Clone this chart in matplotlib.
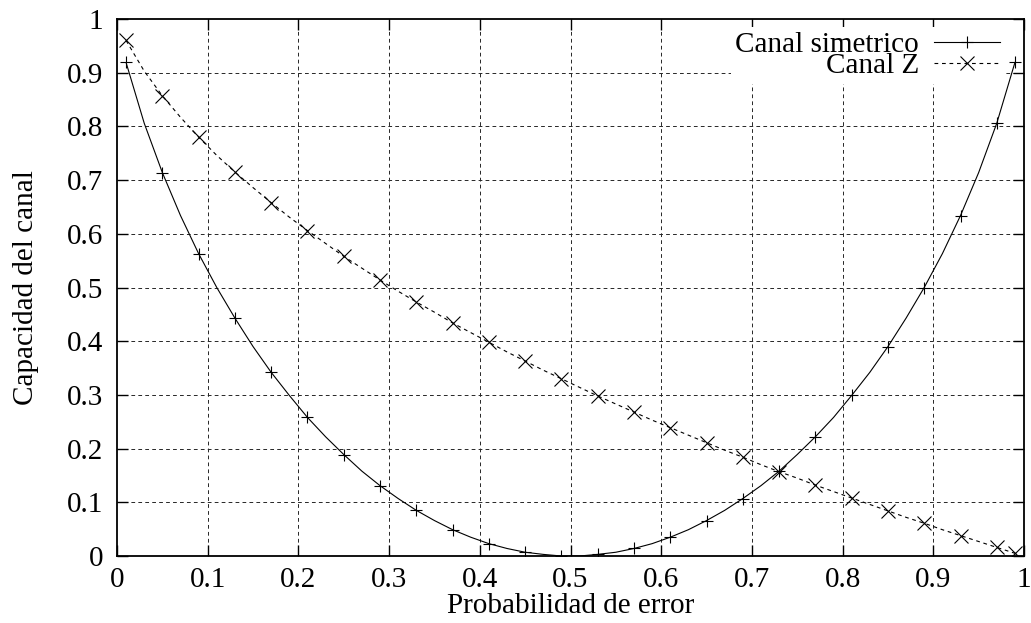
import numpy as np
import matplotlib
matplotlib.use("Agg")
import matplotlib.pyplot as plt

plt.rcParams['font.family'] = ['Liberation Serif', 'DejaVu Serif']
plt.rcParams['font.size'] = 21
plt.rcParams['lines.scale_dashes'] = False

# error probability grid (step 0.02), markers every 0.04
p = np.round(np.linspace(0.01, 0.99, 50), 2)

cap_sym = [0.919, 0.806, 0.714, 0.634, 0.563, 0.500, 0.443, 0.390, 0.342, 0.299,
           0.258, 0.222, 0.189, 0.158, 0.131, 0.107, 0.085, 0.066, 0.049, 0.035,
           0.023, 0.014, 0.007, 0.003, 0.000, 0.000, 0.003, 0.007, 0.014, 0.023,
           0.035, 0.049, 0.066, 0.085, 0.107, 0.131, 0.158, 0.189, 0.222, 0.258,
           0.299, 0.342, 0.390, 0.443, 0.500, 0.563, 0.634, 0.714, 0.806, 0.919]

cap_z = [0.960, 0.903, 0.857, 0.817, 0.780, 0.746, 0.715, 0.686, 0.658, 0.631,
         0.606, 0.582, 0.558, 0.536, 0.514, 0.493, 0.473, 0.454, 0.434, 0.416,
         0.398, 0.380, 0.363, 0.346, 0.330, 0.314, 0.298, 0.283, 0.268, 0.253,
         0.239, 0.225, 0.211, 0.197, 0.184, 0.170, 0.157, 0.145, 0.132, 0.120,
         0.108, 0.096, 0.084, 0.072, 0.061, 0.049, 0.038, 0.027, 0.016, 0.005]

ticks = [0, 0.1, 0.2, 0.3, 0.4, 0.5, 0.6, 0.7, 0.8, 0.9, 1]
tick_labels = ['0', '0.1', '0.2', '0.3', '0.4', '0.5', '0.6', '0.7', '0.8', '0.9', '1']

marks = list(range(0, 50, 2)) + [49]

fig = plt.figure(figsize=(10.31, 6.23), dpi=100)
ax = fig.add_axes([117 / 1031, 67 / 623, 907 / 1031, 537 / 623])

# dashed grid drawn by hand so the key box can sit between grid and tics
for t in ticks[1:-1]:
    ax.axhline(t, color='0.15', lw=0.7, ls=(0, (2.7, 2.3)), zorder=1)
    ax.axvline(t, color='0.15', lw=0.7, ls=(0, (2.7, 2.3)), zorder=1)

ax.plot(p, cap_sym, color='k', lw=0.8, marker='+', ms=9, mew=0.8,
        markevery=marks, label='Canal simetrico', zorder=2)
ax.plot(p, cap_z, color='k', lw=0.8, ls=(0, (2.7, 2.7)), marker='x', ms=10.5, mew=0.8,
        markevery=marks, label='Canal Z', zorder=2)

ax.set_xlim(0, 1)
ax.set_ylim(0, 1)
ax.set_xticks(ticks)
ax.set_xticklabels(tick_labels)
ax.set_yticks(ticks)
ax.set_yticklabels(tick_labels)
ax.tick_params(direction='in', length=8, width=1, top=True, right=True)
ax.tick_params(axis='x', pad=8)
ax.tick_params(axis='y', pad=10)
for s in ax.spines.values():
    s.set_linewidth(1.3)

ax.set_xlabel('Probabilidad de error', va='baseline')
ax.xaxis.set_label_coords(0.5, (556 - 613) / 537)
ax.set_ylabel('Capacidad del canal', va='baseline')
ax.yaxis.set_label_coords((33 - 117) / 907, 0.5)

leg = ax.legend(loc='upper right', bbox_to_anchor=(0.978, 0.985), borderaxespad=0,
                markerfirst=False, frameon=True, fancybox=False, framealpha=1,
                edgecolor='none', facecolor='white', borderpad=0.15,
                labelspacing=-0.17, handlelength=2.24, handletextpad=0.52,
                numpoints=1)
leg.set_zorder(2.4)

fig.savefig('out.png', dpi=100)
